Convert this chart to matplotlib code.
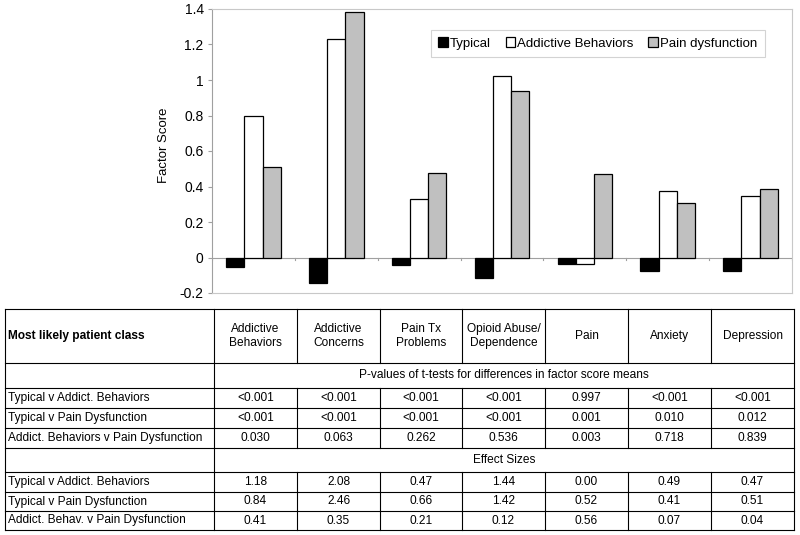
import matplotlib
matplotlib.use("Agg")
import matplotlib.pyplot as plt
import numpy as np

plt.rcParams['font.family'] = ['Liberation Sans', 'DejaVu Sans']

# factor scores
factors = ["Addictive\nBehaviors", "Addictive\nConcerns", "Pain Tx\nProblems",
           "Opioid Abuse/\nDependence", "Pain", "Anxiety", "Depression"]
typical = [-0.055, -0.145, -0.04, -0.115, -0.035, -0.075, -0.075]
addictive = [0.80, 1.23, 0.33, 1.02, -0.035, 0.375, 0.345]
pain_dys = [0.51, 1.385, 0.475, 0.94, 0.47, 0.305, 0.385]
series_names = ["Typical", "Addictive Behaviors", "Pain dysfunction"]
series_colors = ["black", "white", "#c0c0c0"]

# table contents
comparisons_p = ["Typical v Addict. Behaviors", "Typical v Pain Dysfunction",
                 "Addict. Behaviors v Pain Dysfunction"]
pvalues = [
    ["<0.001", "<0.001", "<0.001", "<0.001", "0.997", "<0.001", "<0.001"],
    ["<0.001", "<0.001", "<0.001", "<0.001", "0.001", "0.010", "0.012"],
    ["0.030", "0.063", "0.262", "0.536", "0.003", "0.718", "0.839"],
]
comparisons_es = ["Typical v Addict. Behaviors", "Typical v Pain Dysfunction",
                  "Addict. Behav. v Pain Dysfunction"]
effects = [
    ["1.18", "2.08", "0.47", "1.44", "0.00", "0.49", "0.47"],
    ["0.84", "2.46", "0.66", "1.42", "0.52", "0.41", "0.51"],
    ["0.41", "0.35", "0.21", "0.12", "0.56", "0.07", "0.04"],
]

W, H = 800, 535
fig = plt.figure(figsize=(8, 5.35), dpi=100)

# ---- bar chart ----
x0, x1, ytop, ybot = 212, 792, 9, 293
ax = fig.add_axes([x0 / W, 1 - ybot / H, (x1 - x0) / W, (ybot - ytop) / H])
x = np.arange(len(factors))
bw = 0.22
for i, (vals, name, col) in enumerate(zip([typical, addictive, pain_dys], series_names, series_colors)):
    ax.bar(x + (i - 1) * bw, vals, bw, color=col, edgecolor='black', linewidth=0.9,
           label=name, zorder=3)
ax.set_xlim(-0.5, len(factors) - 0.5)
ax.set_ylim(-0.2, 1.4)
ax.set_yticks(np.arange(-0.2, 1.41, 0.2))
ax.set_yticklabels(["-0.2", "0", "0.2", "0.4", "0.6", "0.8", "1", "1.2", "1.4"])
ax.tick_params(axis='y', length=3, color='#a0a0a0', labelsize=10, pad=3)
ax.set_xticks([])
for s in ax.spines.values():
    s.set_color('#c8c8c8')
    s.set_linewidth(0.8)
ax.spines['left'].set_color('#a0a0a0')
ax.axhline(0, color='#a0a0a0', linewidth=0.8, zorder=2)
for b in np.arange(-0.5, len(factors) - 0.4, 1.0):
    ax.plot([b, b], [0, -0.012], color='#a0a0a0', linewidth=0.8, zorder=2)
ax.set_ylabel("Factor Score", fontsize=9.5)
ax.yaxis.set_label_coords(-0.072, 0.52)
leg = ax.legend(loc='upper right', bbox_to_anchor=(0.953, 0.926), ncol=3, frameon=True,
                fancybox=False, fontsize=9.5, handlelength=0.75, handleheight=0.75,
                handletextpad=0.15, columnspacing=1.1, borderpad=0.55, borderaxespad=0)
leg.get_frame().set_edgecolor('#c8c8c8')
leg.get_frame().set_linewidth(0.8)

# ---- table ----
tax = fig.add_axes([0, 0, 1, 1])
tax.set_xlim(0, W)
tax.set_ylim(H, 0)
tax.axis('off')

col_edges = [5, 214, 297, 380, 462, 545, 628, 711, 794]
row_edges = [309, 363, 388, 408, 428, 448, 472, 492, 511, 530]
lw = 0.8
for y in row_edges:
    tax.plot([col_edges[0], col_edges[-1]], [y, y], color='black', linewidth=lw)
for xe in [col_edges[0], col_edges[1], col_edges[-1]]:
    tax.plot([xe, xe], [row_edges[0], row_edges[-1]], color='black', linewidth=lw)
for xe in col_edges[2:-1]:
    for ya, yb in [(row_edges[0], row_edges[1]), (row_edges[2], row_edges[5]),
                   (row_edges[6], row_edges[9])]:
        tax.plot([xe, xe], [ya, yb], color='black', linewidth=lw)

fs = 8.6
centers = [(col_edges[j] + col_edges[j + 1]) / 2 for j in range(1, 8)]
tax.text(8, (row_edges[0] + row_edges[1]) / 2, "Most likely patient class",
         fontsize=fs, fontweight='bold', va='center', ha='left')
for c, lab in zip(centers, factors):
    tax.text(c, (row_edges[0] + row_edges[1]) / 2, lab, fontsize=fs, ha='center',
             va='center', linespacing=1.25)
mid_data = (col_edges[1] + col_edges[-1]) / 2
tax.text(mid_data, (row_edges[1] + row_edges[2]) / 2,
         "P-values of t-tests for differences in factor score means",
         fontsize=fs, ha='center', va='center')
tax.text(mid_data, (row_edges[5] + row_edges[6]) / 2, "Effect Sizes",
         fontsize=fs, ha='center', va='center')

for r, (lab, vals) in enumerate(zip(comparisons_p, pvalues)):
    yc = (row_edges[2 + r] + row_edges[3 + r]) / 2
    tax.text(8, yc, lab, fontsize=fs, ha='left', va='center')
    for c, v in zip(centers, vals):
        tax.text(c, yc, v, fontsize=fs, ha='center', va='center')
for r, (lab, vals) in enumerate(zip(comparisons_es, effects)):
    yc = (row_edges[6 + r] + row_edges[7 + r]) / 2
    tax.text(8, yc, lab, fontsize=fs, ha='left', va='center')
    for c, v in zip(centers, vals):
        tax.text(c, yc, v, fontsize=fs, ha='center', va='center')

fig.savefig("out.png", dpi=100)
